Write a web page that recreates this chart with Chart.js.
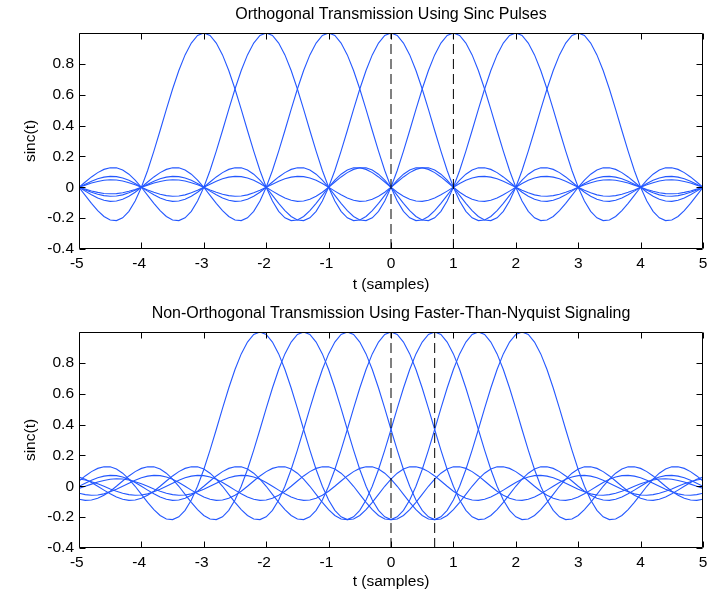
<!DOCTYPE html>
<html>
<head>
<meta charset="utf-8">
<script src="https://cdn.jsdelivr.net/npm/chart.js@4.4.1/dist/chart.umd.min.js"></script>
<style>
  html, body { margin: 0; padding: 0; background: #fff; overflow: hidden; }
  .plot { position: absolute; left: 0; width: 709px; height: 296px; }
</style>
</head>
<body>
<div class="plot" style="top:0px"><canvas id="topCanvas"></canvas></div>
<div class="plot" style="top:299px"><canvas id="bottomCanvas"></canvas></div>
<script>
// sinc pulse, one sample every 0.1 from offset 0 to 8 (it is symmetric)
const pulseStep = 0.1;
const pulseHalf = [
  1, 0.984, 0.935, 0.858, 0.757, 0.637, 0.505, 0.368, 0.234, 0.109,
  0, -0.089, -0.156, -0.198, -0.216, -0.212, -0.189, -0.151, -0.104, -0.052,
  0, 0.047, 0.085, 0.112, 0.126, 0.127, 0.116, 0.095, 0.067, 0.034,
  0, -0.032, -0.058, -0.078, -0.089, -0.091, -0.084, -0.070, -0.049, -0.025,
  0, 0.024, 0.045, 0.060, 0.069, 0.071, 0.066, 0.055, 0.039, 0.020,
  0, -0.019, -0.036, -0.049, -0.056, -0.058, -0.054, -0.045, -0.032, -0.017,
  0, 0.016, 0.030, 0.041, 0.047, 0.049, 0.046, 0.038, 0.028, 0.014,
  0, -0.014, -0.026, -0.035, -0.041, -0.042, -0.040, -0.033, -0.024, -0.012,
  0
];

// pulse centres
const topCenters = [-3, -2, -1, 0, 1, 2, 3];
const bottomCenters = [-2.1, -1.4, -0.7, 0, 0.7, 1.4, 2.1];

// dashed sampling instants
const topMarkers = [0, 1];
const bottomMarkers = [0, 0.7];

const xTicks = [-5, -4, -3, -2, -1, 0, 1, 2, 3, 4, 5];
const yTicks = [-0.4, -0.2, 0, 0.2, 0.4, 0.6, 0.8];

const topTitle = 'Orthogonal Transmission Using Sinc Pulses';
const bottomTitle = 'Non-Orthogonal Transmission Using Faster-Than-Nyquist Signaling';

const FONT = 'Liberation Sans';
const BLUE = '#2458ff';

function pulseAt(center) {
  const pts = [];
  const n = pulseHalf.length - 1;
  for (let i = -n; i <= n; i++) {
    const x = Math.round((center + i * pulseStep) * 10) / 10;
    if (x < -5 || x > 5) continue;
    pts.push({ x: x, y: pulseHalf[Math.abs(i)] });
  }
  return pts;
}

// matlab style box with inward ticks on all sides
const matlabAxes = {
  id: 'matlabAxes',
  afterDatasetsDraw(chart) {
    const { ctx, chartArea: a, scales } = chart;
    const l = Math.round(a.left) + 0.5, r = Math.round(a.right) - 0.5;
    const t = Math.round(a.top) + 0.5, b = Math.round(a.bottom) - 0.5;
    ctx.save();
    ctx.strokeStyle = '#000';
    ctx.lineWidth = 1;
    ctx.beginPath();
    ctx.rect(l, t, r - l, b - t);
    scales.x.ticks.forEach(tk => {
      const px = Math.round(scales.x.getPixelForValue(tk.value)) + 0.5;
      ctx.moveTo(px, b); ctx.lineTo(px, b - 6);
      ctx.moveTo(px, t); ctx.lineTo(px, t + 6);
    });
    scales.y.ticks.forEach(tk => {
      const py = Math.round(scales.y.getPixelForValue(tk.value)) + 0.5;
      ctx.moveTo(l, py); ctx.lineTo(l + 6, py);
      ctx.moveTo(r, py); ctx.lineTo(r - 6, py);
    });
    ctx.stroke();
    ctx.restore();
  }
};

function makeChart(id, title, centers, markers, xTitlePad) {
  const datasets = [];
  markers.forEach(m => {
    datasets.push({
      data: [{ x: m, y: -0.4 }, { x: m, y: 1 }],
      borderColor: '#000',
      borderWidth: 1,
      borderDash: [10, 5],
      pointRadius: 0,
      showLine: true
    });
  });
  centers.forEach(c => {
    datasets.push({
      data: pulseAt(c),
      borderColor: BLUE,
      borderWidth: 1.1,
      pointRadius: 0,
      tension: 0,
      showLine: true
    });
  });

  return new Chart(document.getElementById(id), {
    type: 'scatter',
    data: { datasets: datasets },
    plugins: [matlabAxes],
    options: {
      responsive: true,
      maintainAspectRatio: false,
      animation: false,
      layout: { padding: { left: 0, right: 6, top: 0, bottom: 0 } },
      plugins: {
        legend: { display: false },
        tooltip: { enabled: false },
        title: {
          display: true,
          fullSize: false,
          text: title,
          color: '#000',
          font: { family: FONT, size: 16, weight: 'normal' },
          padding: { top: 4.9, bottom: 8.9 }
        }
      },
      scales: {
        x: {
          type: 'linear',
          min: -5, max: 5,
          afterBuildTicks: s => { s.ticks = xTicks.map(v => ({ value: v })); },
          afterFit: s => { s.height = 47; s.paddingLeft = 0; s.paddingRight = 0; },
          grid: { display: false, drawTicks: false },
          border: { display: false },
          ticks: {
            color: '#000',
            padding: 5.5,
            maxRotation: 0,
            font: { family: FONT, size: 15.5 },
            callback: v => (v < 0 ? v + ' ' : String(v))
          },
          title: {
            display: true,
            text: 't (samples)',
            color: '#000',
            font: { family: FONT, size: 15.5 },
            padding: { top: 0, bottom: xTitlePad }
          }
        },
        y: {
          type: 'linear',
          min: -0.4, max: 1,
          afterBuildTicks: s => { s.ticks = yTicks.map(v => ({ value: v })); },
          afterFit: s => { s.width = 79; },
          grid: { display: false, drawTicks: false },
          border: { display: false },
          ticks: {
            color: '#000',
            padding: 5,
            font: { family: FONT, size: 15.5 },
            callback: v => String(v)
          },
          title: {
            display: true,
            text: 'sinc(t)',
            color: '#000',
            font: { family: FONT, size: 15.5 },
            padding: { top: 21, bottom: 0 }
          }
        }
      }
    }
  });
}

makeChart('topCanvas', topTitle, topCenters, topMarkers, 1.7);
makeChart('bottomCanvas', bottomTitle, bottomCenters, bottomMarkers, 3.7);
</script>
</body>
</html>
